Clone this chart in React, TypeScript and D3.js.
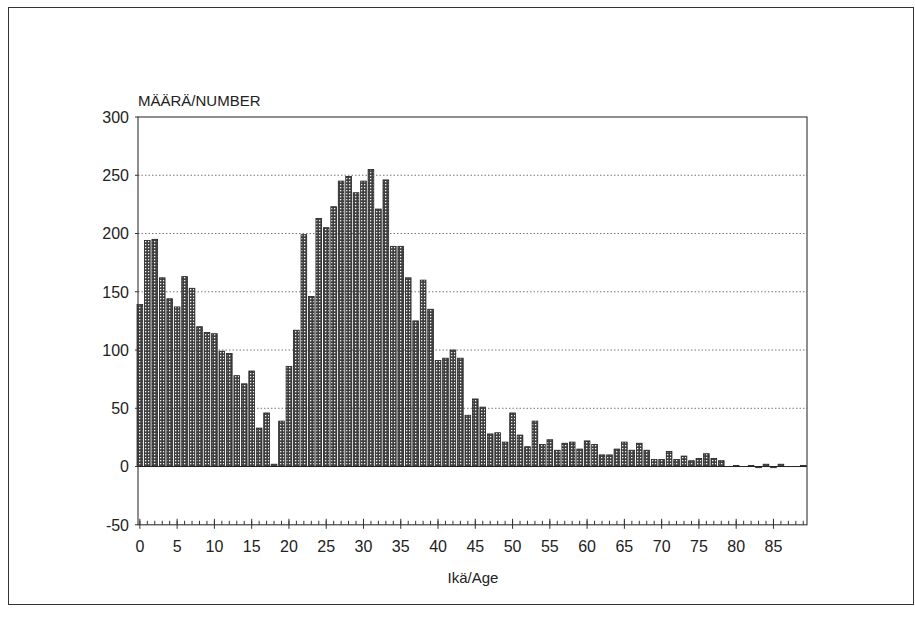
import React from "react";
import * as d3 from "d3";

const ages: number[] = d3.range(0, 90);
const counts: number[] = [
  139, 194, 195, 162, 144, 137, 163, 153, 120, 115,
  114, 99, 97, 78, 71, 82, 33, 46, 2, 39,
  86, 117, 199, 146, 213, 205, 223, 245, 249, 235,
  245, 255, 221, 246, 189, 189, 162, 125, 160, 135,
  91, 93, 100, 93, 44, 58, 51, 28, 29, 21,
  46, 27, 17, 39, 19, 23, 14, 20, 21, 15,
  22, 19, 10, 10, 15, 21, 14, 20, 14, 6,
  6, 13, 6, 9, 5, 7, 11, 7, 5, 0,
  1, 0, 1, -1, 2, -1, 2, 0, 0, 1,
];
const yTicks: number[] = [-50, 0, 50, 100, 150, 200, 250, 300];
const xMajorTicks: number[] = d3.range(0, 90, 5);
const xMinorTicks: number[] = d3.range(0, 90);
const yTitle = "MÄÄRÄ/NUMBER";
const xTitle = "Ikä/Age";

export default function App() {
  const left = 138, right = 807, top = 117, bottom = 524.8;
  const x = d3.scaleLinear().domain([-0.25, 89.5]).range([left, right]);
  const y = d3.scaleLinear().domain([-50, 300]).range([bottom, top]);
  const step = x(1) - x(0);
  const bw = step * 0.76;
  const font = "'Liberation Sans', Arial, Helvetica, sans-serif";

  return (
    <svg width={915} height={619} style={{ position: "absolute", left: 0, top: 0, background: "#fff" }}>
      <defs>
        <pattern id="dots" width={3} height={3} patternUnits="userSpaceOnUse">
          <rect width={3} height={3} fill="#404040" />
          <rect x={1} y={1} width={1.3} height={1.3} fill="#f4f4f4" />
        </pattern>
      </defs>
      <rect x={8.5} y={7.5} width={905} height={597} fill="none" stroke="#333" strokeWidth={1} />

      {/* gridlines */}
      {yTicks.filter((t) => t > 0 && t < 300).map((t) => (
        <line key={"g" + t} x1={left} x2={right} y1={y(t)} y2={y(t)} stroke="#666" strokeWidth={0.9} strokeDasharray="1.5,2" />
      ))}

      {/* bars */}
      {ages.map((a, i) => {
        const v = counts[i];
        if (v === 0) return null;
        const y0 = y(0);
        const yv = y(v);
        const h = Math.max(Math.abs(y0 - yv), 1);
        return (
          <rect key={"b" + a} x={x(a) - bw / 2} y={Math.min(y0, yv)} width={bw} height={h}
            fill="url(#dots)" stroke="#222" strokeWidth={0.8} />
        );
      })}

      {/* zero baseline */}
      <line x1={left} x2={right} y1={y(0)} y2={y(0)} stroke="#222" strokeWidth={1} />

      {/* frame */}
      <rect x={left} y={top} width={right - left} height={bottom - top} fill="none" stroke="#333" strokeWidth={1.1} />

      {/* y ticks & labels */}
      {yTicks.map((t) => (
        <g key={"y" + t}>
          <line x1={left - 3} x2={left} y1={y(t)} y2={y(t)} stroke="#333" />
          <text x={left - 9} y={y(t)} dy="0.36em" textAnchor="end" fontFamily={font} fontSize={16} fill="#222">{t}</text>
        </g>
      ))}

      {/* x ticks */}
      {xMinorTicks.map((t) => (
        <line key={"m" + t} x1={x(t)} x2={x(t)} y1={bottom} y2={bottom - 4} stroke="#333" strokeWidth={1} />
      ))}
      {xMajorTicks.map((t) => (
        <g key={"x" + t}>
          <line x1={x(t)} x2={x(t)} y1={bottom + 4} y2={bottom - 6} stroke="#333" strokeWidth={1} />
          <text x={x(t)} y={552} textAnchor="middle" fontFamily={font} fontSize={16} fill="#222">{t}</text>
        </g>
      ))}

      <text x={left} y={106} fontFamily={font} fontSize={15} fill="#222">{yTitle}</text>
      <text x={473} y={583} textAnchor="middle" fontFamily={font} fontSize={15} fill="#222">{xTitle}</text>
    </svg>
  );
}
